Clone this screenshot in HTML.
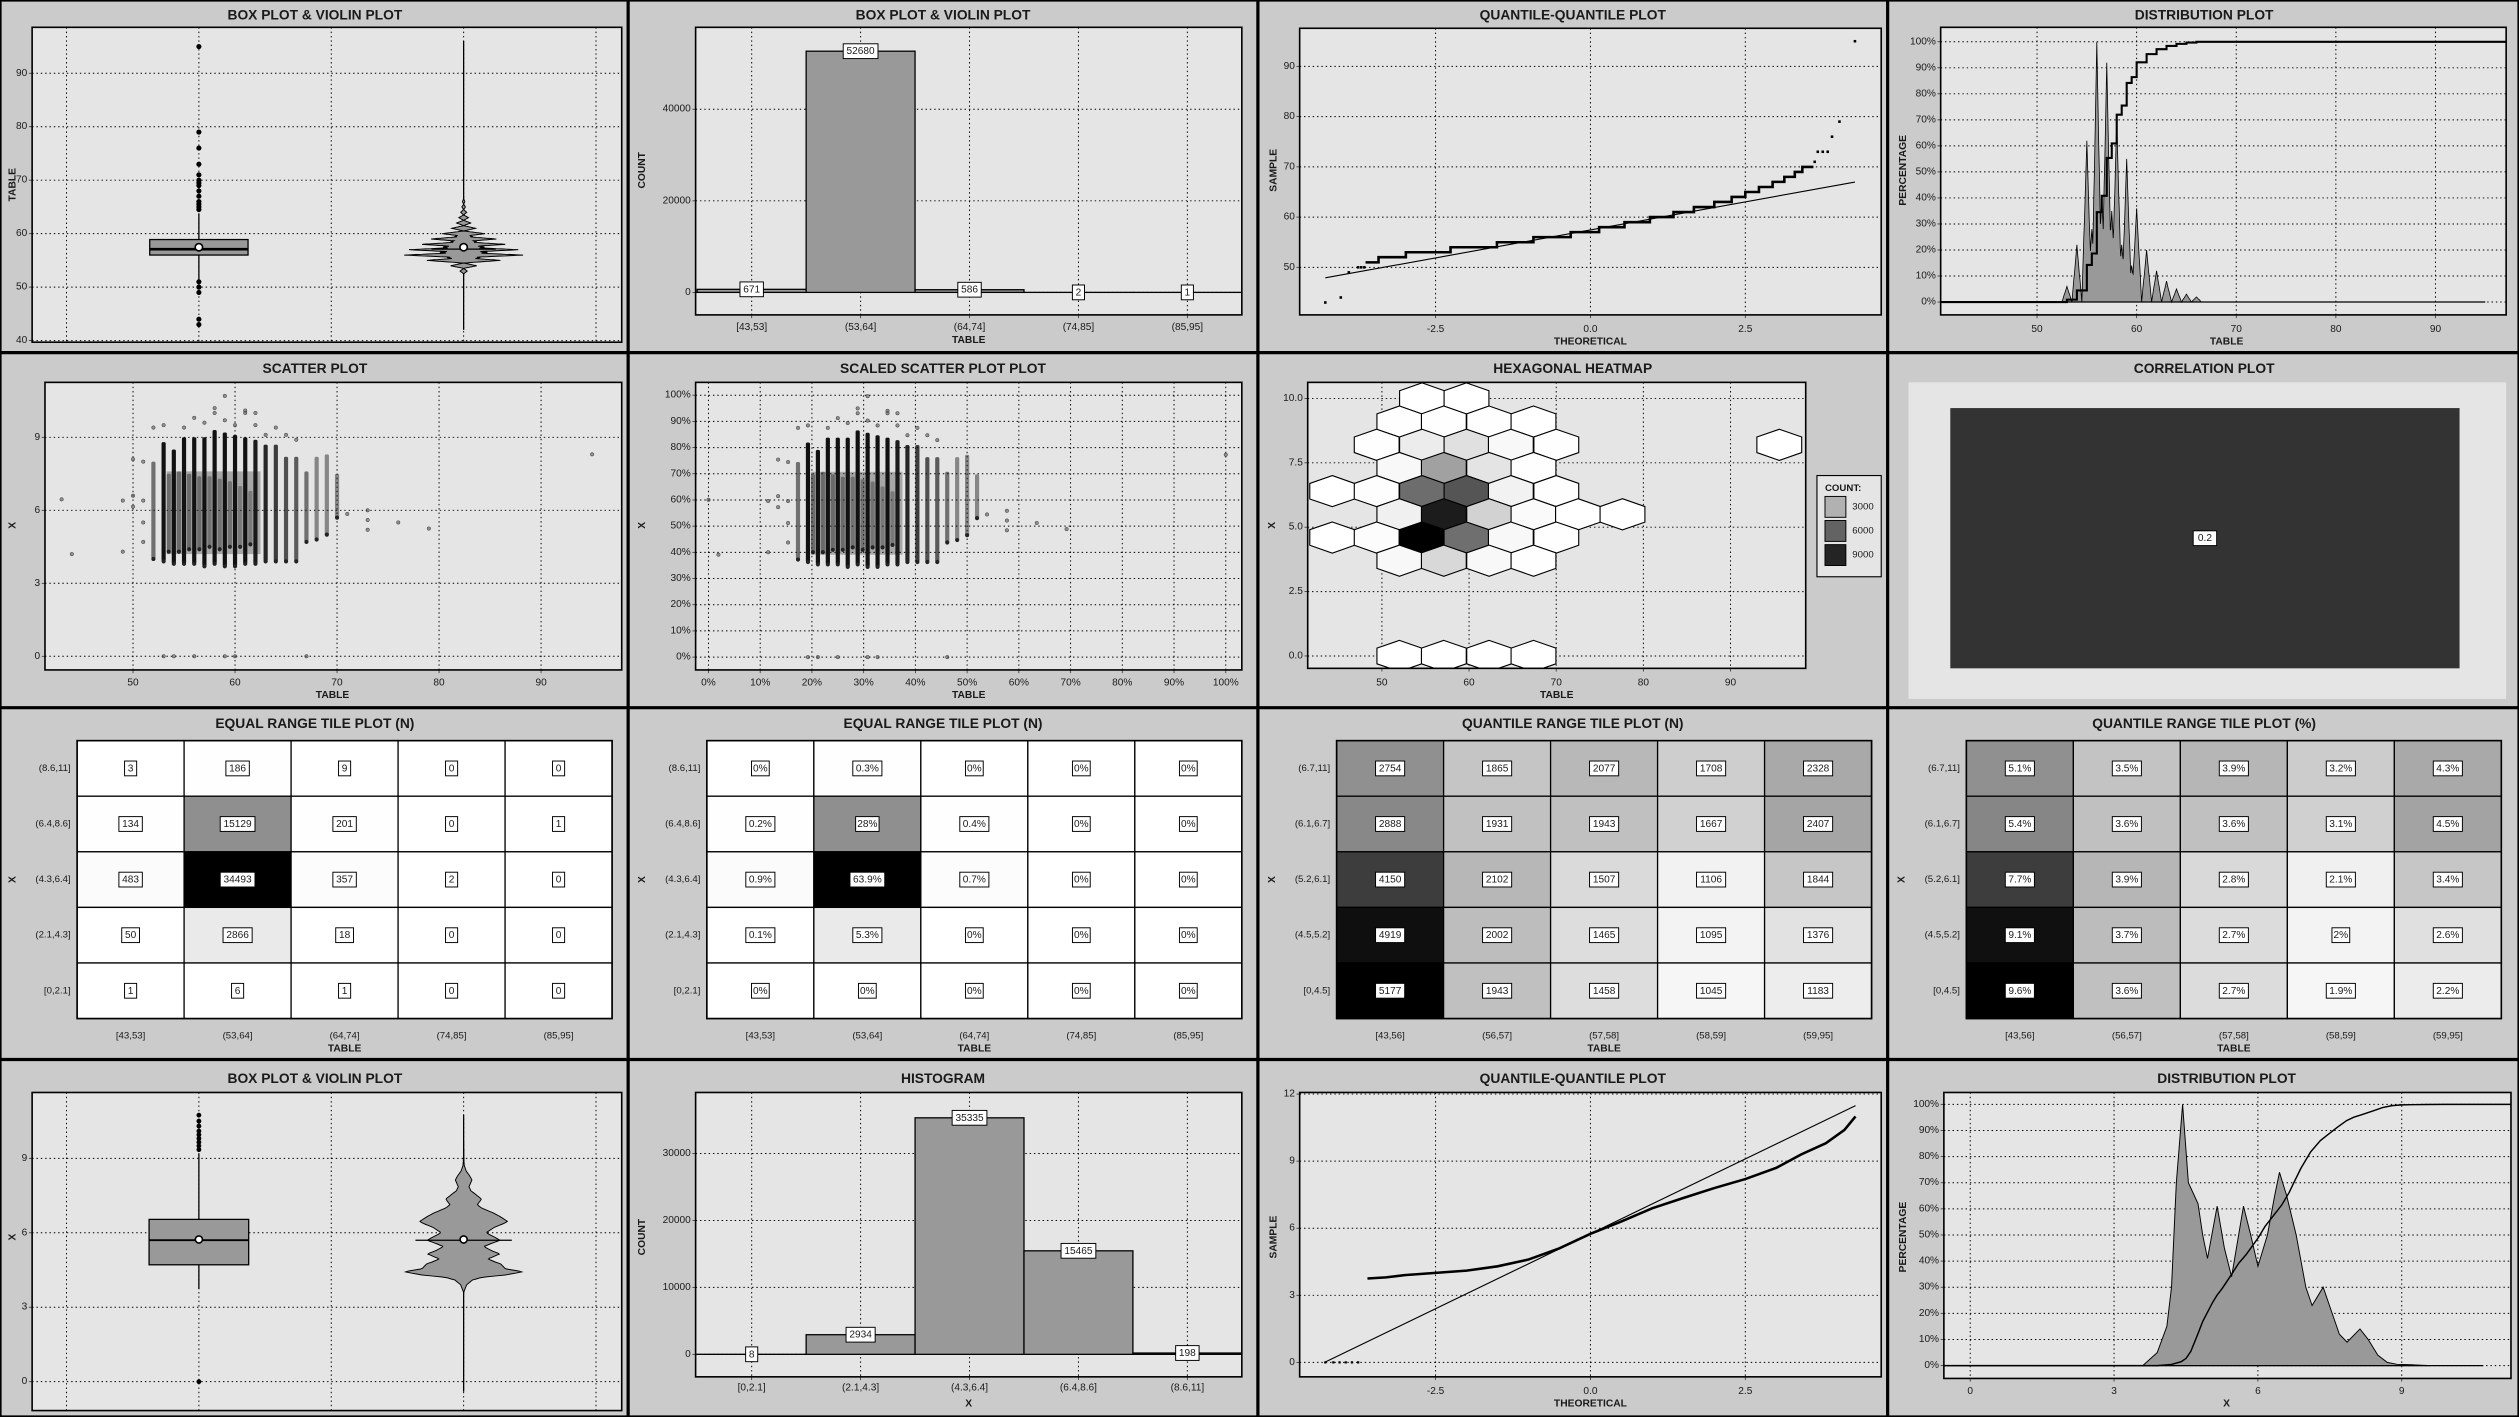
<!DOCTYPE html>
<html><head><meta charset="utf-8">
<style>
html,body{margin:0;padding:0;background:#cbcbcb;}
svg{display:block;font-family:"Liberation Sans",sans-serif;}
</style></head>
<body>
<svg id="chart" width="2519" height="1417" viewBox="0 0 1568 882" preserveAspectRatio="none" xmlns="http://www.w3.org/2000/svg">
<rect x="0" y="0" width="1568" height="882" fill="#cbcbcb"/>
<g id="p1"></g>
<g id="p2"></g>
<g id="p3"></g>
<g id="p4"></g>
<g id="p5"></g>
<g id="p6"></g>
<g id="p7"></g>
<g id="p8"></g>
<g id="p9"></g>
<g id="p10"></g>
<g id="p11"></g>
<g id="p12"></g>
<g id="p13"></g>
<g id="p14"></g>
<g id="p15"></g>
<g id="p16"></g>
<g id="sep">
<line x1="391" y1="0" x2="391" y2="882" stroke="#000" stroke-width="2"/>
<line x1="783" y1="0" x2="783" y2="882" stroke="#000" stroke-width="2"/>
<line x1="1175" y1="0" x2="1175" y2="882" stroke="#000" stroke-width="2"/>
<line x1="0" y1="219.5" x2="1568" y2="219.5" stroke="#000" stroke-width="2"/>
<line x1="0" y1="440.5" x2="1568" y2="440.5" stroke="#000" stroke-width="2"/>
<line x1="0" y1="659.5" x2="1568" y2="659.5" stroke="#000" stroke-width="2"/>
<rect x="0.5" y="0.5" width="1567" height="881" fill="none" stroke="#000" stroke-width="1"/>
</g>
</svg>
<script>
// ===== DATA =====
const tabV=[53,54,55,55.5,56,56.5,57,57.5,58,58.5,59,59.5,60,61,62,63,64,65,66];
const tabD=[6,22,62,28,100,40,92,35,70,22,55,14,36,20,12,8,5,3,2];
const tabBox=[51.4,56.0,57.1,58.9,63.8];
const tabMean=[57.46];
const tabOut=[95,79,76,73,71,70,69.5,69,68,67,66,65.5,65,64.5,51,50,49,44,43];
const tabRange=[42,96];
const histTCats=["[43,53]","(53,64]","(64,74]","(74,85]","(85,95]"];
const histTCounts=[671,52680,586,2,1];
const histTTicks=[0,20000,40000];
const qqStepV=[51,52,53,54,55,56,57,58,59,60,61,62,63,64,65,66,67,68,69,70];
const qqStepStart=[-3.63,-3.42,-2.98,-2.26,-1.51,-0.92,-0.32,0.14,0.55,0.96,1.34,1.67,2.0,2.28,2.5,2.72,2.94,3.13,3.3,3.42];
const qqStepEnd=[-3.42,-2.98,-2.26,-1.51,-0.92,-0.32,0.14,0.55,0.96,1.34,1.67,2.0,2.28,2.5,2.72,2.94,3.13,3.3,3.42,3.6];
const qqPtT=[-4.28,-4.03,-3.9,-3.75,-3.7,-3.65,3.62,3.67,3.75,3.83,3.9,4.02,4.27];
const qqPtV=[43,44,49,50,50,50,71,73,73,73,76,79,95];
const qqLine=[57.45,2.23];
const stripeT=[52,53,54,55,56,57,58,59,60,61,62,63,64,65,66,67,68,69,70,53.5,54.5,55.5,56.5,57.5,58.5,59.5,60.5,61.5];
const stripeLo=[4.0,3.9,3.8,3.8,3.8,3.7,3.8,3.7,3.7,3.8,3.8,3.9,3.9,3.9,3.9,4.7,4.8,5.0,5.7,4.3,4.3,4.4,4.4,4.5,4.4,4.5,4.5,4.6];
const stripeHi=[8.0,8.8,8.5,9.0,9.0,9.0,9.3,9.2,9.1,9.0,8.9,8.7,8.7,8.2,8.2,7.6,8.2,8.3,7.5,7.5,7.6,7.5,7.4,7.4,7.3,7.2,7.0,6.8];
const stripeDen=[0.55,1,1,1,1,1,1,1,1,1,0.95,0.9,0.8,0.7,0.65,0.55,0.45,0.45,0.45,0.4,0.4,0.4,0.4,0.35,0.35,0.35,0.3,0.3];
const cloudT=[53.3,62.5];
const cloudX=[4.2,7.6];
const extraT=[43,44,49,49,50,50,50,51,51,51,51,52,53,55,56,57,58,58,59,59,60,61,61,62,62,63,64,65,66,71,73,73,73,76,79,95,53,54,56,59,60,67];
const extraX=[6.45,4.2,4.3,6.4,8.1,6.6,6.15,6.4,5.5,4.7,8.0,9.4,9.5,9.4,9.8,9.6,10.2,10.0,10.7,9.7,9.5,10.1,10.0,10.0,9.5,9.1,9.4,9.1,8.9,5.85,6.0,5.6,5.2,5.5,5.25,8.3,0,0,0,0,0,0];
const hexX=[54.6,59.7, 52.0,57.1,62.3,67.4, 49.4,54.6,59.7,64.8,70.0,95.6, 52.0,57.1,62.3,67.4, 44.3,49.4,54.6,59.7,64.8,70.0, 52.0,57.1,62.3,67.4,72.5,77.6, 44.3,49.4,54.6,59.7,64.8,70.0, 52.0,57.1,62.3,67.4, 52.0,57.1,62.3,67.4];
const hexY=[10,10, 9.1,9.1,9.1,9.1, 8.2,8.2,8.2,8.2,8.2,8.2, 7.3,7.3,7.3,7.3, 6.4,6.4,6.4,6.4,6.4,6.4, 5.5,5.5,5.5,5.5,5.5,5.5, 4.6,4.6,4.6,4.6,4.6,4.6, 3.7,3.7,3.7,3.7, 0,0,0,0];
const hexN=[20,10, 30,60,40,10, 40,800,1300,300,40,2, 300,4000,1150,60, 10,100,6200,7200,550,60, 640,9600,1900,200,20,3, 15,120,10800,6100,300,30, 300,1650,300,40, 10,15,12,3];
const hexLegend=[3000,6000,9000];
const corrVal=[0.2];
const eqXCats=["[43,53]","(53,64]","(64,74]","(74,85]","(85,95]"];
const eqYCats=["(8.6,11]","(6.4,8.6]","(4.3,6.4]","(2.1,4.3]","[0,2.1]"];
const eqN=[[3,186,9,0,0],[134,15129,201,0,1],[483,34493,357,2,0],[50,2866,18,0,0],[1,6,1,0,0]];
const eqPct=[["0%","0.3%","0%","0%","0%"],["0.2%","28%","0.4%","0%","0%"],["0.9%","63.9%","0.7%","0%","0%"],["0.1%","5.3%","0%","0%","0%"],["0%","0%","0%","0%","0%"]];
const qXCats=["[43,56]","(56,57]","(57,58]","(58,59]","(59,95]"];
const qYCats=["(6.7,11]","(6.1,6.7]","(5.2,6.1]","(4.5,5.2]","[0,4.5]"];
const qN=[[2754,1865,2077,1708,2328],[2888,1931,1943,1667,2407],[4150,2102,1507,1106,1844],[4919,2002,1465,1095,1376],[5177,1943,1458,1045,1183]];
const qPct=[[5.1,3.5,3.9,3.2,4.3],[5.4,3.6,3.6,3.1,4.5],[7.7,3.9,2.8,2.1,3.4],[9.1,3.7,2.7,2,2.6],[9.6,3.6,2.7,1.9,2.2]];
const xBox=[3.73,4.71,5.70,6.54,9.2];
const xMean=[5.73];
const xOut=[9.35,9.5,9.65,9.8,9.95,10.1,10.3,10.5,10.74,0];
const xRange=[-0.4,10.74];
const densX=[3.6,3.9,4.1,4.2,4.3,4.43,4.55,4.75,4.85,4.95,5.15,5.3,5.45,5.7,5.85,6.0,6.2,6.35,6.45,6.6,6.8,7.0,7.13,7.36,7.55,7.7,7.86,8.13,8.3,8.5,8.7,8.9,9.2,9.6];
const densY=[0,5,15,30,70,100,70,62,50,41,61,45,34,61,50,38,50,65,74,65,50,30,23,30,20,12,9,14,10,4,1.2,0.5,0.3,0];
const histXCats=["[0,2.1]","(2.1,4.3]","(4.3,6.4]","(6.4,8.6]","(8.6,11]"];
const histXCounts=[8,2934,35335,15465,198];
const histXTicks=[0,10000,20000,30000];
const qq2T=[-3.6,-3.3,-3.0,-2.5,-2.0,-1.5,-1.0,-0.5,0,0.5,1.0,1.5,2.0,2.5,3.0,3.4,3.8,4.1,4.28];
const qq2V=[3.75,3.8,3.9,4.0,4.1,4.3,4.6,5.1,5.75,6.3,6.9,7.35,7.8,8.2,8.7,9.3,9.8,10.4,11.0];
const qq2ZeroT=[-4.28,-4.15,-4.05,-3.95,-3.85,-3.75];
const qq2Line=[5.75,1.34];

// ===== HELPERS =====
const NS='http://www.w3.org/2000/svg';
function mk(tag,attrs,parent){const e=document.createElementNS(NS,tag);for(const k in attrs)e.setAttribute(k,attrs[k]);parent.appendChild(e);return e;}
function lin(d0,d1,r0,r1){return v=>r0+(v-d0)*(r1-r0)/(d1-d0);}
function txt(p,x,y,s,size,anchor,bold,rot){
  const t=mk('text',{x:x,y:y,'font-size':size,'text-anchor':anchor||'middle','dominant-baseline':'central',fill:'#1a1a1a','font-weight':bold?'bold':'normal'},p);
  if(rot)t.setAttribute('transform','rotate('+rot+' '+x+' '+y+')');
  t.textContent=s;return t;}
function title(p,cx,y,s){const t=txt(p,cx,y,s,8.6,'middle',true);return t;}
function frameBg(p,x0,y0,x1,y1,fill){const r=mk('rect',{x:x0,y:y0,width:x1-x0,height:y1-y0,fill:fill||'#e5e5e5'},p);return r;}
function frameBorder(p,x0,y0,x1,y1){const r=mk('rect',{x:x0,y:y0,width:x1-x0,height:y1-y0,fill:'none',stroke:'#000','stroke-width':1},p);return r;}
function gl(p,x1,y1,x2,y2){const l=mk('line',{x1:x1,y1:y1,x2:x2,y2:y2,stroke:'#000','stroke-width':0.6,'stroke-dasharray':'0.9 1.8'},p);return l;}
function yAxis(p,vals,labels,Y,x0,x1){vals.forEach((v,i)=>{gl(p,x0,Y(v),x1,Y(v));mk('line',{x1:x0-2,y1:Y(v),x2:x0,y2:Y(v),stroke:'#333','stroke-width':0.5},p);const t=txt(p,x0-3,Y(v),labels[i],6.3,'end');});}
function xAxis(p,vals,labels,X,y0,y1,ly){vals.forEach((v,i)=>{gl(p,X(v),y0,X(v),y1);if(labels){mk('line',{x1:X(v),y1:y1,x2:X(v),y2:y1+2,stroke:'#333','stroke-width':0.5},p);const t=txt(p,X(v),ly,labels[i],6.3,'middle');}});}
function axTitleX(p,x,y,s){const t=txt(p,x,y,s,6.4,'middle',true);}
function axTitleY(p,x,y,s){const t=txt(p,x,y,s,6.4,'middle',true,-90);}
function lbox(p,x,y,s,size){size=size||6.3;const w=s.length*size*0.56+4;const g=mk('g',{},p);
  
  mk('rect',{x:x-w/2,y:y-4.6,width:w,height:9.2,fill:'#fff',stroke:'#000','stroke-width':0.6},g);
  txt(g,x,y+0.3,s,size,'middle');return g;}
function range(a,b,s){const r=[];for(let v=a;v<=b+1e-9;v+=s)r.push(+v.toFixed(4));return r;}
function spikeDens(v){let m=0;tabV.forEach((p,i)=>{const w=tabD[i]*Math.max(0,1-Math.abs(v-p)/0.5);if(w>m)m=w;});return m;}
function interpDens(v){if(v<=densX[0]||v>=densX[densX.length-1])return 0;for(let i=1;i<densX.length;i++){if(v<=densX[i]){const f=(v-densX[i-1])/(densX[i]-densX[i-1]);return densY[i-1]+f*(densY[i]-densY[i-1]);}}return 0;}
const G=id=>document.getElementById(id);

// ===== P1 =====
(function(){const p=G('p1');title(p,196,9,'BOX PLOT & VIOLIN PLOT');
const x0=20,y0=17,x1=387,y1=213;frameBg(p,x0,y0,x1,y1);
const X=lin(0,4,41.4,371),Y=lin(40,90,212,45.6);
yAxis(p,[40,50,60,70,80,90],['40','50','60','70','80','90'],Y,x0,x1);
xAxis(p,[0,1,2,3,4],null,X,y0,y1);
axTitleY(p,8,115,'TABLE');
const bx=X(1),hw=30.6;
let l=mk('line',{x1:bx,y1:Y(tabBox[0]),x2:bx,y2:Y(tabBox[4]),stroke:'#000','stroke-width':0.8},p);
let r=mk('rect',{x:bx-hw,y:Y(tabBox[3]),width:2*hw,height:Y(tabBox[1])-Y(tabBox[3]),fill:'#999',stroke:'#000','stroke-width':0.8},p);
l=mk('line',{x1:bx-hw,y1:Y(tabBox[2]),x2:bx+hw,y2:Y(tabBox[2]),stroke:'#000','stroke-width':1.6},p);
tabOut.forEach(v=>{const c=mk('circle',{cx:bx,cy:Y(v),r:1.6,fill:'#000'},p);});
let c=mk('circle',{cx:bx,cy:Y(tabMean[0]),r:2.3,fill:'#fff',stroke:'#000','stroke-width':1},p);
const vx=X(3);l=mk('line',{x1:vx,y1:Y(tabRange[0]),x2:vx,y2:Y(tabRange[1]),stroke:'#000','stroke-width':0.8},p);
const vs=range(52,67,0.05);let R=[],L=[];vs.forEach(v=>{const w=spikeDens(v)/100*37;R.push([vx+w,Y(v)]);L.push([vx-w,Y(v)]);});
const pts=R.concat(L.reverse()).map(q=>q[0].toFixed(1)+','+q[1].toFixed(1)).join(' ');
const pg=mk('polygon',{points:pts,fill:'#999',stroke:'#000','stroke-width':0.6},p);
l=mk('line',{x1:vx-20,y1:Y(tabBox[2]),x2:vx+20,y2:Y(tabBox[2]),stroke:'#000','stroke-width':0.8},p);
c=mk('circle',{cx:vx,cy:Y(tabMean[0]),r:2.3,fill:'#fff',stroke:'#000','stroke-width':1},p);
frameBorder(p,x0,y0,x1,y1);})();

function hist(p,cats,counts,ticks,Y,x0,y0,x1,y1,xt,titleY,labY){
  frameBg(p,x0,y0,x1,y1);
  yAxis(p,ticks,ticks.map(String),Y,x0,x1);
  const bw=(x1-x0-1)/cats.length;const cx=i=>x0+1+bw*(i+0.5);
  xAxis(p,cats.map((c,i)=>i),cats,cx,y0,y1,labY);
  counts.forEach((v,i)=>{const r=mk('rect',{x:cx(i)-bw/2,y:Y(v),width:bw,height:Y(0)-Y(v),fill:'#999',stroke:'#000','stroke-width':0.8},p);});
  counts.forEach((v,i)=>lbox(p,cx(i),Y(v),String(v)));
  frameBorder(p,x0,y0,x1,y1);axTitleX(p,(x0+x1)/2,titleY,xt);}
(function(){const p=G('p2');title(p,587,9,'BOX PLOT & VIOLIN PLOT');
hist(p,histTCats,histTCounts,histTTicks,lin(0,40000,182,68),433,17,773,196,'TABLE',212,204);axTitleY(p,400,106,'COUNT');})();

(function(){const p=G('p3');title(p,979,9,'QUANTILE-QUANTILE PLOT');
const x0=809,y0=17.6,x1=1171,y1=196;frameBg(p,x0,y0,x1,y1);
const X=lin(0,2.5,990,1086.4),Y=lin(50,90,166.4,41.3);
yAxis(p,[50,60,70,80,90],['50','60','70','80','90'],Y,x0,x1);
xAxis(p,[-2.5,0,2.5],['-2.5','0.0','2.5'],X,y0,y1,205);
axTitleX(p,990,213,'THEORETICAL');axTitleY(p,793,106,'SAMPLE');
let l=mk('line',{x1:X(-4.28),y1:Y(qqLine[0]+qqLine[1]*-4.28),x2:X(4.27),y2:Y(qqLine[0]+qqLine[1]*4.27),stroke:'#000','stroke-width':0.7},p);
let d='';qqStepV.forEach((v,i)=>{d+=(i?'L':'M')+X(qqStepStart[i]).toFixed(1)+','+Y(v).toFixed(1)+'L'+X(qqStepEnd[i]).toFixed(1)+','+Y(v).toFixed(1);});
const pa=mk('path',{d:d,fill:'none',stroke:'#000','stroke-width':1.6},p);
qqPtT.forEach((t,i)=>{const c=mk('rect',{x:X(t)-0.8,y:Y(qqPtV[i])-0.8,width:1.6,height:1.6,fill:'#000'},p);});
frameBorder(p,x0,y0,x1,y1);})();

(function(){const p=G('p4');title(p,1372,9,'DISTRIBUTION PLOT');
const x0=1208,y0=17,x1=1560,y1=196;frameBg(p,x0,y0,x1,y1);
const X=lin(50,90,1268,1516),Y=lin(0,100,188,26);
const pt=range(0,100,10);yAxis(p,pt,pt.map(v=>v+'%'),Y,x0,x1);
xAxis(p,[50,60,70,80,90],['50','60','70','80','90'],X,y0,y1,205);
axTitleX(p,1386,213,'TABLE');axTitleY(p,1185,106,'PERCENTAGE');
const vs=range(52,67,0.05);let pts=[[X(52),Y(0)]];vs.forEach(v=>pts.push([X(v),Y(spikeDens(v))]));pts.push([X(67),Y(0)]);
const pg=mk('polygon',{points:pts.map(q=>q[0].toFixed(1)+','+q[1].toFixed(1)).join(' '),fill:'#999',stroke:'#000','stroke-width':0.5},p);
let l=mk('line',{x1:X(43),y1:Y(0),x2:X(95),y2:Y(0),stroke:'#000','stroke-width':0.8},p);
const tot=tabD.reduce((a,b)=>a+b,0);let cum=0;let d='M'+x0+','+Y(0);
tabV.forEach((v,i)=>{d+='L'+X(v).toFixed(1)+','+Y(cum/tot*100).toFixed(1);cum+=tabD[i];d+='L'+X(v).toFixed(1)+','+Y(cum/tot*100).toFixed(1);});
d+='L'+x1+','+Y(100);
const pa=mk('path',{d:d,fill:'none',stroke:'#000','stroke-width':1.3},p);
frameBorder(p,x0,y0,x1,y1);})();

function scatter(p,X,Y,tf,xf){
  const cr=mk('rect',{x:X(tf(cloudT[0])),y:Y(xf(cloudX[1])),width:X(tf(cloudT[1]))-X(tf(cloudT[0])),height:Y(xf(cloudX[0]))-Y(xf(cloudX[1])),fill:'#333','fill-opacity':0.35},p);
  stripeT.forEach((t,i)=>{const r=mk('rect',{x:X(tf(t))-1.3,y:Y(xf(stripeHi[i])),width:2.6,height:Y(xf(stripeLo[i]))-Y(xf(stripeHi[i])),fill:'#111','fill-opacity':stripeDen[i],rx:1},p);
    const c1=mk('circle',{cx:X(tf(t)),cy:Y(xf(stripeLo[i])),r:1.3,fill:'#222'},p);});
  extraT.forEach((t,i)=>{const c=mk('circle',{cx:X(tf(t)),cy:Y(xf(extraX[i])),r:1.1,fill:'#555','fill-opacity':0.6,stroke:'#333','stroke-width':0.3},p);});}
(function(){const p=G('p5');title(p,196,229,'SCATTER PLOT');
const x0=28,y0=238,x1=387,y1=417;frameBg(p,x0,y0,x1,y1);
const X=lin(50,60,82.8,146.3),Y=lin(0,9,408.5,272.2);
yAxis(p,[0,3,6,9],['0','3','6','9'],Y,x0,x1);
xAxis(p,[50,60,70,80,90],['50','60','70','80','90'],X,y0,y1,425);
axTitleX(p,207,433,'TABLE');axTitleY(p,8,327,'X');
scatter(p,X,Y,t=>t,v=>v);frameBorder(p,x0,y0,x1,y1);})();
(function(){const p=G('p6');title(p,587,229,'SCALED SCATTER PLOT PLOT');
const x0=433,y0=238,x1=773,y1=417;frameBg(p,x0,y0,x1,y1);
const X=lin(0,1,441,763),Y=lin(0,1,409,246);
const tk=range(0,1,0.1);yAxis(p,tk,tk.map(v=>Math.round(v*100)+'%'),Y,x0,x1);
xAxis(p,tk,tk.map(v=>Math.round(v*100)+'%'),X,y0,y1,425);
axTitleX(p,603,433,'TABLE');axTitleY(p,400,327,'X');
scatter(p,X,Y,t=>(t-43)/(95-43),v=>v/10.74);frameBorder(p,x0,y0,x1,y1);})();

(function(){const p=G('p7');title(p,979,229,'HEXAGONAL HEATMAP');
const x0=814,y0=238,x1=1124,y1=416;frameBg(p,x0,y0,x1,y1);
const X=lin(50,70,860.2,968.7),Y=lin(0,10,408.3,248);
yAxis(p,[0,2.5,5,7.5,10],['0.0','2.5','5.0','7.5','10.0'],Y,x0,x1);
xAxis(p,[50,60,70,80,90],['50','60','70','80','90'],X,y0,y1,425);
axTitleX(p,969,433,'TABLE');axTitleY(p,792,327,'X');
const cp=mk('clipPath',{id:'hexclip'},p);mk('rect',{x:x0,y:y0,width:x1-x0,height:y1-y0},cp);
const hg=mk('g',{'clip-path':'url(#hexclip)'},p);
const hw=13.95,hr=9.7;
const gray=n=>{const g=Math.max(0,Math.min(255,Math.round(255-n*0.0236)));return 'rgb('+g+','+g+','+g+')';};
hexX.forEach((hx,i)=>{const cx=X(hx),cy=Y(hexY[i]);const pts=[[0,-hr],[hw,-hr/2],[hw,hr/2],[0,hr],[-hw,hr/2],[-hw,-hr/2]].map(q=>(cx+q[0]).toFixed(1)+','+(cy+q[1]).toFixed(1)).join(' ');
 const h=mk('polygon',{points:pts,fill:gray(hexN[i]),stroke:'#000','stroke-width':0.7},hg);});
frameBorder(p,x0,y0,x1,y1);
const lg=mk('g',{},p);
mk('rect',{x:1131,y:296,width:40,height:63,fill:'#e5e5e5',stroke:'#000','stroke-width':0.7},lg);
txt(lg,1136,304,'COUNT:',6,'start',true);
hexLegend.forEach((n,i)=>{const r=mk('rect',{x:1136,y:309+i*15,width:13,height:13,fill:gray(n*1.1-(i==2?600:0)),stroke:'#000','stroke-width':0.6},lg);const t=txt(lg,1153,315.5+i*15,String(n),6,'start');});
})();

(function(){const p=G('p8');title(p,1372,229,'CORRELATION PLOT');
frameBg(p,1188,238,1560,435,'#e5e5e5');
const shade=v=>{const g=Math.round(255-Math.abs(v)*1020);const c=Math.max(40,Math.min(255,g));return 'rgb('+c+','+c+','+c+')';};
const r=mk('rect',{x:1214,y:254,width:317,height:162,fill:shade(corrVal[0])},p);
lbox(p,1372.5,335,String(corrVal[0]));})();

function tiles(p,x0,y0,x1,y1,xc,yc,vals,labels,colorFn,xt){
  mk('rect',{x:x0,y:y0,width:x1-x0,height:y1-y0,fill:'#fff'},p);
  const cw=(x1-x0)/xc.length,ch=(y1-y0)/yc.length;
  vals.forEach((row,r)=>row.forEach((v,c)=>{const e=mk('rect',{x:x0+c*cw,y:y0+r*ch,width:cw,height:ch,fill:colorFn(v),stroke:'#000','stroke-width':0.8},p);}));
  vals.forEach((row,r)=>row.forEach((v,c)=>lbox(p,x0+(c+0.5)*cw,y0+(r+0.5)*ch,labels[r][c])));
  xc.forEach((s,i)=>{const t=txt(p,x0+(i+0.5)*cw,y1+11,s,6,'middle');});
  yc.forEach((s,i)=>{const t=txt(p,x0-4,y0+(i+0.5)*ch,s,6,'end');});
  frameBorder(p,x0,y0,x1,y1);axTitleX(p,(x0+x1)/2,y1+19,xt);axTitleY(p,x0-40,(y0+y1)/2,'X');}
function grayLin(mn,mx){return v=>{const g=Math.round(255*(mx-v)/(mx-mn));return 'rgb('+g+','+g+','+g+')';};}
(function(){const flat=eqN.flat();const cf=grayLin(0,Math.max(...flat));
 let p=G('p9');title(p,196,450,'EQUAL RANGE TILE PLOT (N)');tiles(p,48,461,381,634,eqXCats,eqYCats,eqN,eqN.map(r=>r.map(String)),cf,'TABLE');
 p=G('p10');title(p,587,450,'EQUAL RANGE TILE PLOT (N)');tiles(p,440,461,773,634,eqXCats,eqYCats,eqN,eqPct,cf,'TABLE');
 const qf=qN.flat();const qc=grayLin(Math.min(...qf)*0.85,Math.max(...qf));
 p=G('p11');title(p,979,450,'QUANTILE RANGE TILE PLOT (N)');tiles(p,832,461,1165,634,qXCats,qYCats,qN,qN.map(r=>r.map(String)),qc,'TABLE');
 const pf=qPct.flat();const pc=grayLin(Math.min(...pf)*0.85,Math.max(...pf));
 p=G('p12');title(p,1372,450,'QUANTILE RANGE TILE PLOT (%)');tiles(p,1224,461,1557,634,qXCats,qYCats,qPct,qPct.map(r=>r.map(v=>v+'%')),pc,'TABLE');})();

(function(){const p=G('p13');title(p,196,671,'BOX PLOT & VIOLIN PLOT');
const x0=20,y0=680,x1=387,y1=878;frameBg(p,x0,y0,x1,y1);
const X=lin(0,4,41.4,371),Y=lin(0,9,860,721);
yAxis(p,[0,3,6,9],['0','3','6','9'],Y,x0,x1);xAxis(p,[0,1,2,3,4],null,X,y0,y1);
axTitleY(p,8,770,'X');
const bx=X(1),hw=31;
let l=mk('line',{x1:bx,y1:Y(xBox[0]),x2:bx,y2:Y(xBox[4]),stroke:'#000','stroke-width':0.8},p);
let r=mk('rect',{x:bx-hw,y:Y(xBox[3]),width:2*hw,height:Y(xBox[1])-Y(xBox[3]),fill:'#999',stroke:'#000','stroke-width':0.8},p);
l=mk('line',{x1:bx-hw,y1:Y(xBox[2]),x2:bx+hw,y2:Y(xBox[2]),stroke:'#000','stroke-width':1.2},p);
xOut.forEach(v=>{const c=mk('circle',{cx:bx,cy:Y(v),r:1.5,fill:'#000'},p);});
let c=mk('circle',{cx:bx,cy:Y(xMean[0]),r:2.2,fill:'#fff',stroke:'#000','stroke-width':1},p);
const vx=X(3);l=mk('line',{x1:vx,y1:Y(xRange[0]),x2:vx,y2:Y(xRange[1]),stroke:'#000','stroke-width':0.8},p);
const vs=range(3.5,9.7,0.04);let R=[],L=[];vs.forEach(v=>{const w=interpDens(v)/100*37;R.push([vx+w,Y(v)]);L.push([vx-w,Y(v)]);});
const pg=mk('polygon',{points:R.concat(L.reverse()).map(q=>q[0].toFixed(1)+','+q[1].toFixed(1)).join(' '),fill:'#999',stroke:'#000','stroke-width':0.6},p);
l=mk('line',{x1:vx-30,y1:Y(xBox[2]),x2:vx+30,y2:Y(xBox[2]),stroke:'#000','stroke-width':0.8},p);
c=mk('circle',{cx:vx,cy:Y(xMean[0]),r:2.2,fill:'#fff',stroke:'#000','stroke-width':1},p);
frameBorder(p,x0,y0,x1,y1);})();

(function(){const p=G('p14');title(p,587,671,'HISTOGRAM');
hist(p,histXCats,histXCounts,histXTicks,lin(0,30000,843,718),433,680,773,857,'X',874,864);axTitleY(p,400,770,'COUNT');})();

(function(){const p=G('p15');title(p,979,671,'QUANTILE-QUANTILE PLOT');
const x0=809,y0=680,x1=1171,y1=857;frameBg(p,x0,y0,x1,y1);
const X=lin(0,2.5,990,1086.4),Y=lin(0,12,848,681);
yAxis(p,[0,3,6,9,12],['0','3','6','9','12'],Y,x0,x1);
xAxis(p,[-2.5,0,2.5],['-2.5','0.0','2.5'],X,y0,y1,866);
axTitleX(p,990,874,'THEORETICAL');axTitleY(p,793,770,'SAMPLE');
let l=mk('line',{x1:X(-4.28),y1:Y(qq2Line[0]+qq2Line[1]*-4.28),x2:X(4.28),y2:Y(qq2Line[0]+qq2Line[1]*4.28),stroke:'#000','stroke-width':0.7},p);
const pl=mk('polyline',{points:qq2T.map((t,i)=>X(t).toFixed(1)+','+Y(qq2V[i]).toFixed(1)).join(' '),fill:'none',stroke:'#000','stroke-width':1.6},p);
qq2ZeroT.forEach(t=>{const r=mk('rect',{x:X(t)-0.7,y:Y(0)-0.7,width:1.4,height:1.4,fill:'#000'},p);});
frameBorder(p,x0,y0,x1,y1);})();

(function(){const p=G('p16');title(p,1386,671,'DISTRIBUTION PLOT');
const x0=1210,y0=680,x1=1563,y1=858;frameBg(p,x0,y0,x1,y1);
const X=lin(0,9,1226.4,1495),Y=lin(0,100,850,687.4);
const pt=range(0,100,10);yAxis(p,pt,pt.map(v=>v+'%'),Y,x0,x1);
xAxis(p,[0,3,6,9],['0','3','6','9'],X,y0,y1,866);
axTitleX(p,1386,874,'X');axTitleY(p,1185,770,'PERCENTAGE');
const pts=densX.map((v,i)=>X(v).toFixed(1)+','+Y(densY[i]).toFixed(1));
const pg=mk('polygon',{points:pts.join(' '),fill:'#999',stroke:'#000','stroke-width':0.6},p);
let l=mk('line',{x1:x0,y1:Y(0),x2:X(10.7),y2:Y(0),stroke:'#000','stroke-width':0.8},p);
let cum=[0];for(let i=1;i<densX.length;i++)cum.push(cum[i-1]+(densX[i]-densX[i-1])*(densY[i]+densY[i-1])/2);
const tot=cum[cum.length-1];let d='M'+x0+','+Y(0)+'L'+X(densX[0]+0.3).toFixed(1)+','+Y(0);
densX.forEach((v,i)=>{d+='L'+X(v+0.3).toFixed(1)+','+Y(cum[i]/tot*100).toFixed(1);});d+='L'+x1+','+Y(100);
const pa=mk('path',{d:d,fill:'none',stroke:'#000','stroke-width':0.9},p);
frameBorder(p,x0,y0,x1,y1);})();
</script>
</body></html>
